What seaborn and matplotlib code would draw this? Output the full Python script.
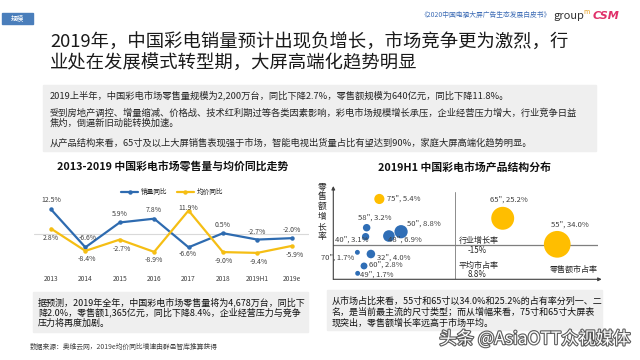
import numpy as np
import pandas as pd
import matplotlib
matplotlib.use('Agg')
import matplotlib.pyplot as plt
import matplotlib.patheffects as pe
from matplotlib.patches import Rectangle
import seaborn as sns

# ── data ──────────────────────────────────────────────────────────────────
years = ['2013', '2014', '2015', '2016', '2017', '2018', '2019H1', '2019e']
sales_yoy = [12.5, -6.6, 5.9, 7.8, -6.6, 0.5, -2.7, -2.0]     # 销量同比
price_yoy = [2.8, -8.4, -2.7, -8.9, 11.9, -9.0, -9.4, -5.9]    # 均价同比

sizes_in = ['75', '65', '55', '58', '50', '48', '40', '70', '32', '60', '49']
share = [5.4, 25.2, 34.0, 3.2, 8.8, 6.9, 3.1, 1.7, 4.0, 2.8, 1.7]
# bubble positions on the (schematic) share / growth axes
share_pos = [17.4, 64.0, 84.6, 12.6, 25.6, 21.0, 12.2, 9.1, 14.2, 11.6, 9.2]
growth_pos = [86.1, 65.4, 37.5, 55.3, 51.0, 46.4, 45.7, 28.9, 27.1, 14.3, 6.4]
group = ['大屏', '大屏', '大屏', '其他', '其他', '其他', '其他', '其他', '其他', '其他', '其他']
avg_share_pos = 46.0        # 平均市占率 8.8%
industry_growth_pos = 36.8  # 行业增长率 -15%

# ── style ─────────────────────────────────────────────────────────────────
sns.set_style('white')
plt.rcParams['font.family'] = ['Noto Sans CJK SC', 'DejaVu Sans']

BLUE = '#2E6BB0'
YELLOW = '#F5BE14'
B_BLUE = '#2F6EB6'
B_YELLOW = '#FFBE00'
TXT = '#262626'

fig = plt.figure(figsize=(6.4, 3.6), dpi=100)
fig.patch.set_facecolor('white')


def fx(x):
    return x / 640


def fy(y):
    return 1 - y / 360


def box(x0, y0, x1, y1, color='#EFEFEF'):
    fig.patches.append(Rectangle((fx(x0), fy(y1)), fx(x1) - fx(x0), fy(y0) - fy(y1),
                                 transform=fig.transFigure, color=color, zorder=0))


# ── header ────────────────────────────────────────────────────────────────
box(2, 13, 33, 24, color='#4A7EBB')
fig.text(fx(17.5), fy(18.5), '规模', color='white', fontsize=4.8, ha='center', va='center')
fig.text(fx(420), fy(15), '《2020中国电视大屏广告生态发展白皮书》', color='#3D6CB5',
         fontsize=4.9, ha='left', va='center')
fig.text(fx(553), fy(16), 'group', color='#333333', fontsize=8, ha='left', va='center')
fig.text(fx(583), fy(12), 'm', color='#E8A020', fontsize=5, ha='left', va='center')
fig.text(fx(593), fy(16), 'CSM', color='#E0306A', fontsize=8, fontweight='bold',
         fontstyle='italic', ha='left', va='center', family='DejaVu Sans')

fig.text(fx(50), fy(43), '2019年，中国彩电销量预计出现负增长，市场竞争更为激烈，行',
         color='#1A1A1A', fontsize=13.2, ha='left', va='center')
fig.text(fx(50), fy(64), '业处在发展模式转型期，大屏高端化趋势明显',
         color='#1A1A1A', fontsize=13.2, ha='left', va='center')

box(43, 85, 596, 151)
summary = [
    (95, '2019上半年，中国彩电市场零售量规模为2,200万台，同比下降2.7%，零售额规模为640亿元，同比下降11.8%。'),
    (113, '受到房地产调控、增量缩减、价格战、技术红利期过等各类因素影响，彩电市场规模增长承压，企业经营压力增大，行业竞争日益'),
    (123, '焦灼，倒逼新旧动能转换加速。'),
    (143, '从产品结构来看，65寸及以上大屏销售表现强于市场，智能电视出货量占比有望达到90%，家庭大屏高端化趋势明显。'),
]
for y, s in summary:
    fig.text(fx(50), fy(y), s, color=TXT, fontsize=6.7, ha='left', va='center')

# ── left chart: YoY lines ────────────────────────────────────────────────
fig.text(fx(173), fy(167), '2013-2019 中国彩电市场零售量与均价同比走势', fontsize=7.8,
         fontweight='bold', ha='center', va='center', color='#111111')

df = pd.DataFrame({
    'idx': list(range(len(years))) * 2,
    'value': sales_yoy + price_yoy,
    'series': ['销量同比'] * len(years) + ['均价同比'] * len(years),
})
ax1 = fig.add_axes([fx(33.8), fy(270), 275.1 / 640, 72 / 360])
sns.lineplot(data=df, x='idx', y='value', hue='series',
             palette={'销量同比': BLUE, '均价同比': YELLOW},
             marker='o', markersize=3.2, markeredgewidth=0, linewidth=1.6, ax=ax1)
ax1.axhline(0, color='#D9D9D9', lw=0.8, zorder=0)
ax1.set_xlim(-0.5, len(years) - 0.5)
ax1.set_ylim(-18, 18.2)
ax1.set_xticks(range(len(years)))
ax1.set_xticklabels(years)
ax1.set_yticks([])
ax1.set_xlabel('')
ax1.set_ylabel('')
ax1.tick_params(axis='x', length=0, pad=3.5, labelsize=4.8, labelcolor='#404040')
for sp in ax1.spines.values():
    sp.set_visible(False)

handles, labels = ax1.get_legend_handles_labels()
ax1.legend(handles, labels, loc='center', bbox_to_anchor=(fx(172), fy(192)),
           bbox_transform=fig.transFigure, ncol=2, frameon=False, fontsize=4.8,
           handlelength=2.6, columnspacing=1.4, handletextpad=0.4)

# label offsets in pixels (dx, dy; dy positive = down)
sales_off = [(0, -9), (2, -9.5), (0, -8.7), (0, -8.7), (-1, 6.6), (0, -8), (0, -7.6), (0, -8.4)]
price_off = [(0, 9.3), (2, 8), (2, 9), (0, 8.3), (0, -3), (1, 9.3), (1, 9.6), (3, 9.3)]
for vals, offs in ((sales_yoy, sales_off), (price_yoy, price_off)):
    for i, (v, (dx, dy)) in enumerate(zip(vals, offs)):
        ax1.annotate(f'{v}%', (i, v), xytext=(dx * 0.72, -dy * 0.72), textcoords='offset points',
                     ha='center', va='center', fontsize=5, color='#404040')

# left text box + source
box(33, 292, 308, 332)
left_note = ['据预测，2019年全年，中国彩电市场零售量将为4,678万台，同比下',
             '降2.0%，零售额1,365亿元，同比下降8.4%，企业经营压力与竞争',
             '压力将再度加剧。']
for k, s in enumerate(left_note):
    fig.text(fx(38), fy(302 + 10.5 * k), s, fontsize=6.5, color='#111111', ha='left', va='center')
fig.text(fx(30), fy(347), '数据来源：奥维云网，2019e均价同比增速由群邑智库推算获得',
         fontsize=4.9, color='#404040', ha='left', va='center')

# ── right chart: bubbles ─────────────────────────────────────────────────
fig.text(fx(465), fy(167), '2019H1 中国彩电市场产品结构分布', fontsize=7.8,
         fontweight='bold', ha='center', va='center', color='#111111')

df2 = pd.DataFrame({'size_in': sizes_in, 'share': share, 'share_pos': share_pos,
                    'growth_pos': growth_pos, 'group': group})
ax2 = fig.add_axes([fx(333.3), fy(279.3), 264.7 / 640, 93.3 / 360])
sns.scatterplot(data=df2, x='share_pos', y='growth_pos', hue='group', size='share',
                sizes=(12.4, 370), size_norm=(1.7, 34),
                palette={'大屏': B_YELLOW, '其他': B_BLUE},
                linewidth=0, alpha=1, legend=False, ax=ax2, zorder=3)
ax2.set_xlim(0, 100)
ax2.set_ylim(0, 100)
ax2.set_xticks([])
ax2.set_yticks([])
ax2.set_xlabel('')
ax2.set_ylabel('')
ax2.patch.set_alpha(0)
for sp in ax2.spines.values():
    sp.set_visible(False)
ax2.axvline(avg_share_pos, ymax=0.94, color='#8C8C8C', lw=0.7, zorder=1)
ax2.axhline(industry_growth_pos, color='#7F7F7F', lw=0.9, zorder=1)
arrow = dict(arrowstyle='-|>', color='#404040', lw=0.8, mutation_scale=5, shrinkA=0, shrinkB=0)
ax2.annotate('', xy=(1.014, 0), xytext=(0, 0), xycoords='axes fraction', arrowprops=arrow,
             annotation_clip=False)
ax2.annotate('', xy=(0, 1.0), xytext=(0, 0), xycoords='axes fraction', arrowprops=arrow,
             annotation_clip=False)

bubble_off = [(8, 0, 'left'), (5.7, -19, 'center'), (12.7, -20, 'center'), (8.3, -10.3, 'center'),
              (5.7, -7.7, 'left'), (-0.7, 3.3, 'left'), (-30.7, 2.6, 'left'), (-36.3, 5, 'left'),
              (6.3, 3.3, 'left'), (5.3, -1, 'left'), (2.3, 1.7, 'left')]
for s_in, sh, x, y, (dx, dy, ha) in zip(sizes_in, share, share_pos, growth_pos, bubble_off):
    ax2.annotate(f'{s_in}", {sh}%', (x, y), xytext=(dx * 0.72, -dy * 0.72),
                 textcoords='offset points', ha=ha, va='center', fontsize=5.5,
                 color='#404040', annotation_clip=False, zorder=4)

ax2.text(54.8, 41.4, '行业增长率', fontsize=5.8, color='#262626', ha='center', va='center')
ax2.text(54.5, 31.3, '-15%', fontsize=5.8, color='#262626', ha='center', va='center')
ax2.text(54.8, 15.3, '平均市占率', fontsize=5.8, color='#262626', ha='center', va='center')
ax2.text(54.5, 5.3, '8.8%', fontsize=5.8, color='#262626', ha='center', va='center')
ax2.text(91.0, 10.8, '零售额市占率', fontsize=5.8, color='#262626', ha='center', va='center')

for k, ch in enumerate('零售额增长率'):
    fig.text(fx(322), fy(186.7 + 10 * k), ch, fontsize=6.3, color='#262626', ha='center', va='center')

# right text box
box(327, 290, 602, 330)
right_note = ['从市场占比来看，55寸和65寸以34.0%和25.2%的占有率分列一、二',
              '名，是当前最主流的尺寸类型；而从增幅来看，75寸和65寸大屏表',
              '现突出，零售额增长率远高于市场平均。']
for k, s in enumerate(right_note):
    fig.text(fx(332), fy(301.7 + 10.5 * k), s, fontsize=6.5, color='#111111', ha='left', va='center')

# watermark
fig.text(fx(535), fy(339), '头条 @AsiaOTT众视媒体', fontsize=12.5, color='white',
         ha='center', va='center',
         path_effects=[pe.withStroke(linewidth=1.6, foreground='#5A5A5A')])

fig.savefig('out.png', dpi=100)
